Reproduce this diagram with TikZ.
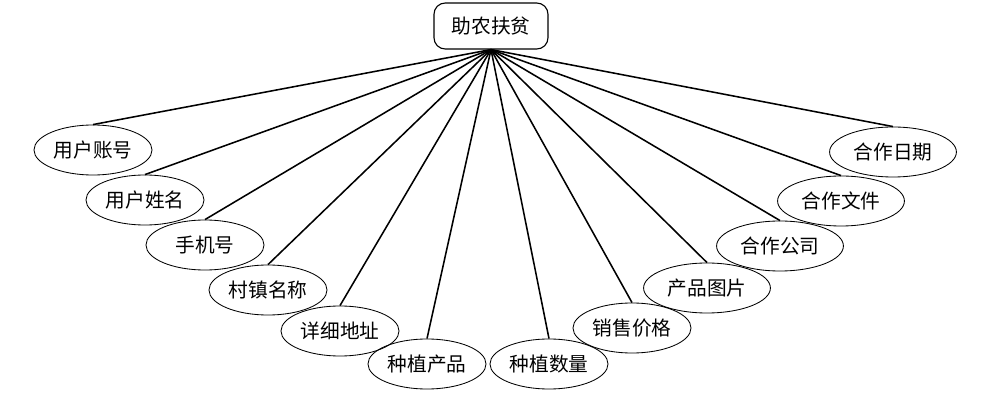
\documentclass[tikz,border=0pt]{standalone}
\usepackage{fontspec}
\setmainfont{Noto Sans CJK SC}
\usepackage{tikz}
\usetikzlibrary{shapes.geometric}
\usetikzlibrary{positioning}
\tikzset{
    entity/.style={
           rectangle,
           rounded corners=8pt,
           draw=black, thick,
           minimum width=2.85cm,
           minimum height=1.15cm,
           inner sep=2pt,
           text centered,
           },
    attr/.style={
           ellipse,
           draw=black, semithick,
           minimum width=2.95cm,
           minimum height=1.25cm,
           inner sep=1pt,
           text centered,
           },
    wide/.style={
           minimum width=3.17cm,
           },
    link/.style={
           line width=1.1pt,
           },
}

\begin{document}
\begin{tikzpicture}[x=0.025cm,y=-0.025cm,font=\fontsize{14}{16}\selectfont]
 \useasboundingbox (0,0) rectangle (988,400);
 % the entity on top
 \node[entity] (FN) at (491,26) {助农扶贫};
 % the attributes, left to right along the arc
 \node[attr] (ZH) at (93,150)  {用户账号};
 \node[attr] (XM) at (145,200) {用户姓名};
 \node[attr] (SJ) at (205,245) {手机号};
 \node[attr] (CZ) at (268,290) {村镇名称};
 \node[attr] (DZ) at (340,331) {详细地址};
 \node[attr] (CP) at (427,364) {种植产品};
 \node[attr] (SL) at (549,364) {种植数量};
 \node[attr] (JG) at (632,328) {销售价格};
 \node[attr,wide] (TP) at (707,288) {产品图片};
 \node[attr,wide] (GS) at (780,246) {合作公司};
 \node[attr,wide] (WJ) at (841,201) {合作文件};
 \node[attr,wide] (RQ) at (893,152) {合作日期};
 % draw the links from the entity
 \foreach \a in {ZH,XM,SJ,CZ,DZ,CP,SL,JG,TP,GS,WJ,RQ}
   \draw[link] (FN.south) -- (\a.north);
\end{tikzpicture}
\end{document}
